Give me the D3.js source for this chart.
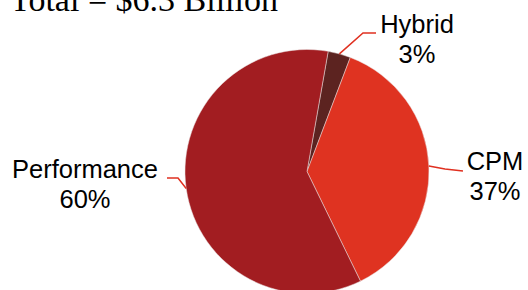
<!DOCTYPE html>
<html>
<head>
<meta charset="utf-8">
<script src="https://cdn.jsdelivr.net/npm/d3@7"></script>
<style>
  body { margin: 0; background: #fff; }
  svg { display: block; }
</style>
</head>
<body>
<svg id="pieChart" width="528" height="290"></svg>
<script>
// chart values
var categories = ["Hybrid", "CPM", "Performance"];
var shares = [3, 37, 60];
var sliceColors = ["#5c2320", "#df3321", "#a21d21"];
var titleText = "Total = $6.3 Billion";

// label layout: elbow point, end of leader and text anchor for each slice
var labelLayout = [
  { elbow: [363, 33], end: [376, 33], text: [417, 33] },
  { elbow: [445, 169], end: [463, 171], text: [495, 170] },
  { elbow: [178, 178], end: [167, 178], text: [85, 178] }
];

var cx = 307, cy = 171.5, radius = 122;

var svg = d3.select("#pieChart");

svg.append("text")
   .attr("x", 10)
   .attr("y", 11)
   .attr("font-family", "'Liberation Serif', 'Times New Roman', serif")
   .attr("font-size", 34)
   .attr("fill", "#000")
   .text(titleText);

var data = categories.map(function(c, i) {
  return { name: c, value: shares[i], color: sliceColors[i], layout: labelLayout[i] };
});

var startDeg = 10;
var pie = d3.pie()
            .sort(null)
            .value(function(d) { return d.value; })
            .startAngle(startDeg * Math.PI / 180)
            .endAngle((startDeg + 360) * Math.PI / 180);

var arc = d3.arc().innerRadius(0).outerRadius(radius);

var g = svg.append("g").attr("transform", "translate(" + cx + "," + cy + ")");

var arcs = pie(data);

g.selectAll("path.slice")
 .data(arcs)
 .enter().append("path")
 .attr("class", "slice")
 .attr("d", arc)
 .attr("fill", function(d) { return d.data.color; })
 .attr("stroke", "#e8e0e0")
 .attr("stroke-width", 0.5);

// leader lines from the middle of each slice's rim
svg.selectAll("polyline.leader")
   .data(arcs)
   .enter().append("polyline")
   .attr("class", "leader")
   .attr("fill", "none")
   .attr("stroke", "#e03020")
   .attr("stroke-width", 1.5)
   .attr("points", function(d) {
     var a = (d.startAngle + d.endAngle) / 2;
     var p0 = [cx + radius * Math.sin(a), cy - radius * Math.cos(a)];
     var l = d.data.layout;
     return [p0, l.elbow, l.end].map(function(p) { return p.join(","); }).join(" ");
   });

var labels = svg.selectAll("text.label")
   .data(arcs)
   .enter().append("text")
   .attr("class", "label")
   .attr("text-anchor", "middle")
   .attr("font-family", "'Liberation Sans', Arial, sans-serif")
   .attr("font-size", 25.5)
   .attr("fill", "#000");

labels.append("tspan")
      .attr("x", function(d) { return d.data.layout.text[0]; })
      .attr("y", function(d) { return d.data.layout.text[1]; })
      .text(function(d) { return d.data.name; });

labels.append("tspan")
      .attr("x", function(d) { return d.data.layout.text[0]; })
      .attr("y", function(d) { return d.data.layout.text[1] + 30; })
      .text(function(d) { return d.data.value + "%"; });
</script>
</body>
</html>
